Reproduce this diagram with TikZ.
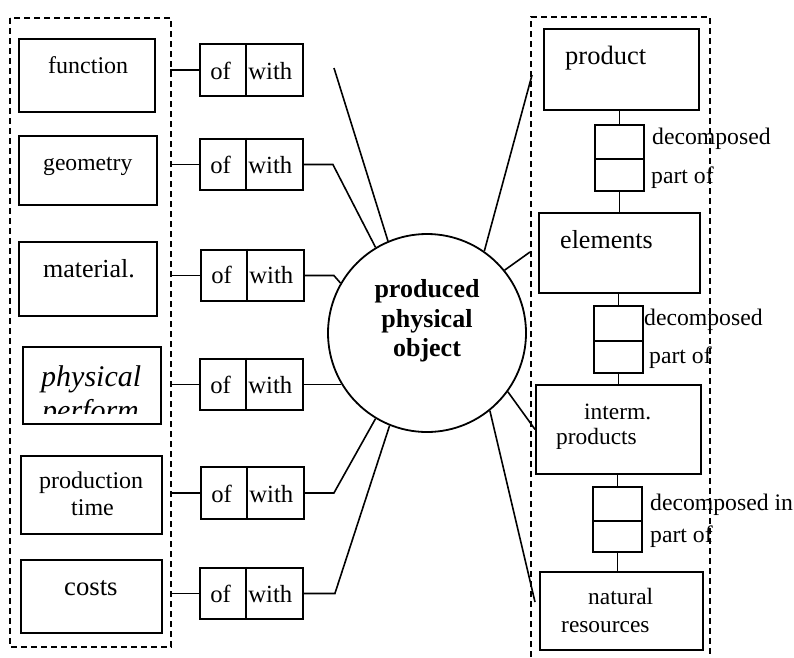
\documentclass[tikz,border=0pt]{standalone}
\usepackage{fontspec}
\setmainfont{Liberation Serif}
\usetikzlibrary{calc}
\newcommand\fsz[1]{\fontsize{#1pt}{#1pt}\selectfont}
\begin{document}
\begin{tikzpicture}[x=1pt,y=-1pt,
  box/.style={draw,line width=1.8pt,inner sep=0pt},
  conn/.style={line width=1.6pt},
  grp/.style={line width=1.5pt,dash pattern=on 6pt off 4pt},
  txt/.style={inner sep=0pt,anchor=base west}]
\useasboundingbox (0,0) rectangle (794,657);
% group containers
\draw[grp] (10,18) rectangle (171,647);
\coordinate (lgE) at (170,0);
\draw[grp] (531,657) -- (531,17) -- (710,17) -- (710,657);
% left attribute boxes
\node[box,minimum width=136pt,minimum height=73pt] (fn) at (87,75.5) {};
\node[box,minimum width=138pt,minimum height=69pt] (geo) at (88,170.5) {};
\node[box,minimum width=138pt,minimum height=74pt] (mat) at (88,279) {};
\node[box,minimum width=138pt,minimum height=77pt] (phy) at (92,385.5) {};
\node[box,minimum width=141pt,minimum height=78pt] (ptime) at (91.5,495) {};
\node[box,minimum width=141pt,minimum height=73pt] (cost) at (91.5,596.5) {};
\node[txt] (tfn) at (48,73) {\fsz{24}function};
\node[txt] (tgeo) at (43,170) {\fsz{23.6}geometry};
\node[txt] (tmat) at (43,277) {\fsz{26}material.};
\node[txt] (tphy) at (41,386) {\fsz{30}\itshape physical};
\begin{scope}
\clip (23,347) rectangle (161,413);
\node[txt] (tperf) at (42,420) {\fsz{30}\itshape perform};
\end{scope}
\node[txt] (tpro) at (39,488) {\fsz{24}production};
\node[txt] (ttime) at (71,515) {\fsz{24}time};
\node[txt] (tcost) at (64,595) {\fsz{26.7}costs};
% of/with boxes
\foreach \n/\x/\y/\b in {1/251.5/70/79, 2/251.5/164.5/173, 3/252.5/275.5/283, 4/251.5/384.5/393, 5/252.5/493/502, 6/251.5/593.5/602}{
  \node[box,minimum width=103pt,minimum height=51.5pt] (ow\n) at (\x,\y) {};
  \draw[line width=1.8pt] ($(ow\n.north west)+(47,0)$) -- ($(ow\n.south west)+(47,0)$);
  \node[txt] (of\n) at ($(ow\n.west |- 0,\b)+(11,0)$) {\fsz{24.7}of};
  \node[txt] (wi\n) at ($(ow\n.west |- 0,\b)+(49,0)$) {\fsz{24.7}with};
  \draw[conn] (ow\n.west) -- (ow\n.west -| lgE);
}
% central object
\node[circle,draw,line width=1.8pt,minimum size=198pt,inner sep=0pt] (obj) at (427,333) {};
\node[inner sep=0pt,anchor=base] (l1) at (427,297) {\fsz{26}\bfseries produced};
\node[inner sep=0pt,anchor=base] (l2) at (427,327) {\fsz{26}\bfseries physical};
\node[inner sep=0pt,anchor=base] (l3) at (427,356) {\fsz{26}\bfseries object};
% connectors with -> object
\coordinate (c1) at (334,68);
\draw[conn] (c1) -- (obj.113);
\draw[conn] (ow2.east) -- ++(29,0) -- (obj.121);
\draw[conn] (ow3.east) -- ++(29,0) -- (obj.150);
\draw[conn] (ow4.east) -- (ow4.east -| obj.211);
\draw[conn] (ow5.east) -- ++(29,0) -- (obj.239);
\draw[conn] (ow6.east) -- ++(31,0) -- (obj.248.6);
% right decomposition chain
\node[box,minimum width=155pt,minimum height=81pt] (prod) at (621.5,69.5) {};
\node[box,minimum width=49pt,minimum height=66pt] (d1) at (619.5,158) {};
\node[box,minimum width=161pt,minimum height=80pt] (elem) at (619.5,253) {};
\node[box,minimum width=49pt,minimum height=67pt] (d2) at (618.5,339.5) {};
\node[box,minimum width=165pt,minimum height=89pt] (inter) at (618.5,429.5) {};
\node[box,minimum width=49pt,minimum height=65pt] (d3) at (617.5,519.5) {};
\node[box,minimum width=163pt,minimum height=78pt] (nat) at (621.5,611) {};
\draw[line width=1.8pt] (d1.west |- 0,159) -- (d1.east |- 0,159);
\draw[line width=1.8pt] (d2.west |- 0,341) -- (d2.east |- 0,341);
\draw[line width=1.8pt] (d3.west |- 0,521) -- (d3.east |- 0,521);
\draw[conn] (d1.north) -- (d1.north |- prod.south);
\draw[conn] (d1.south) -- (d1.south |- elem.north);
\draw[conn] (d2.north) -- (d2.north |- elem.south);
\draw[conn] (d2.south) -- (d2.south |- inter.north);
\draw[conn] (d3.north) -- (d3.north |- inter.south);
\draw[conn] (d3.south) -- (d3.south |- nat.north);
\node[txt] (tprod) at (565,64) {\fsz{26.5}product};
\node[txt] (telem) at (560,248) {\fsz{26}elements};
\node[txt] (tint1) at (584,419) {\fsz{23.4}interm.};
\node[txt] (tint2) at (556,444) {\fsz{23.4}products};
\node[txt] (tnat1) at (588,604) {\fsz{23.4}natural};
\node[txt] (tnat2) at (561,632) {\fsz{23.4}resources};
\node[txt] (dc1) at (652,144) {\fsz{23.7}decomposed};
\node[txt] (po1) at (651,183) {\fsz{23.7}part of};
\node[txt] (dc2) at (644,325) {\fsz{23.7}decomposed};
\node[txt] (po2) at (649,363) {\fsz{23.7}part of};
\node[txt] (dc3) at (650,510) {\fsz{23.7}decomposed in};
\node[txt] (po3) at (650,542) {\fsz{23.7}part of};
% object -> right group
\coordinate (r1) at (532,75);
\coordinate (r2) at (530,252);
\coordinate (r4) at (535,602);
\draw[conn] (obj.55) -- (r1);
\draw[conn] (obj.39) -- (r2);
\draw[conn] (obj.-36.4) -- (inter.west);
\draw[conn] (obj.-51) -- (r4);
\end{tikzpicture}
\end{document}
